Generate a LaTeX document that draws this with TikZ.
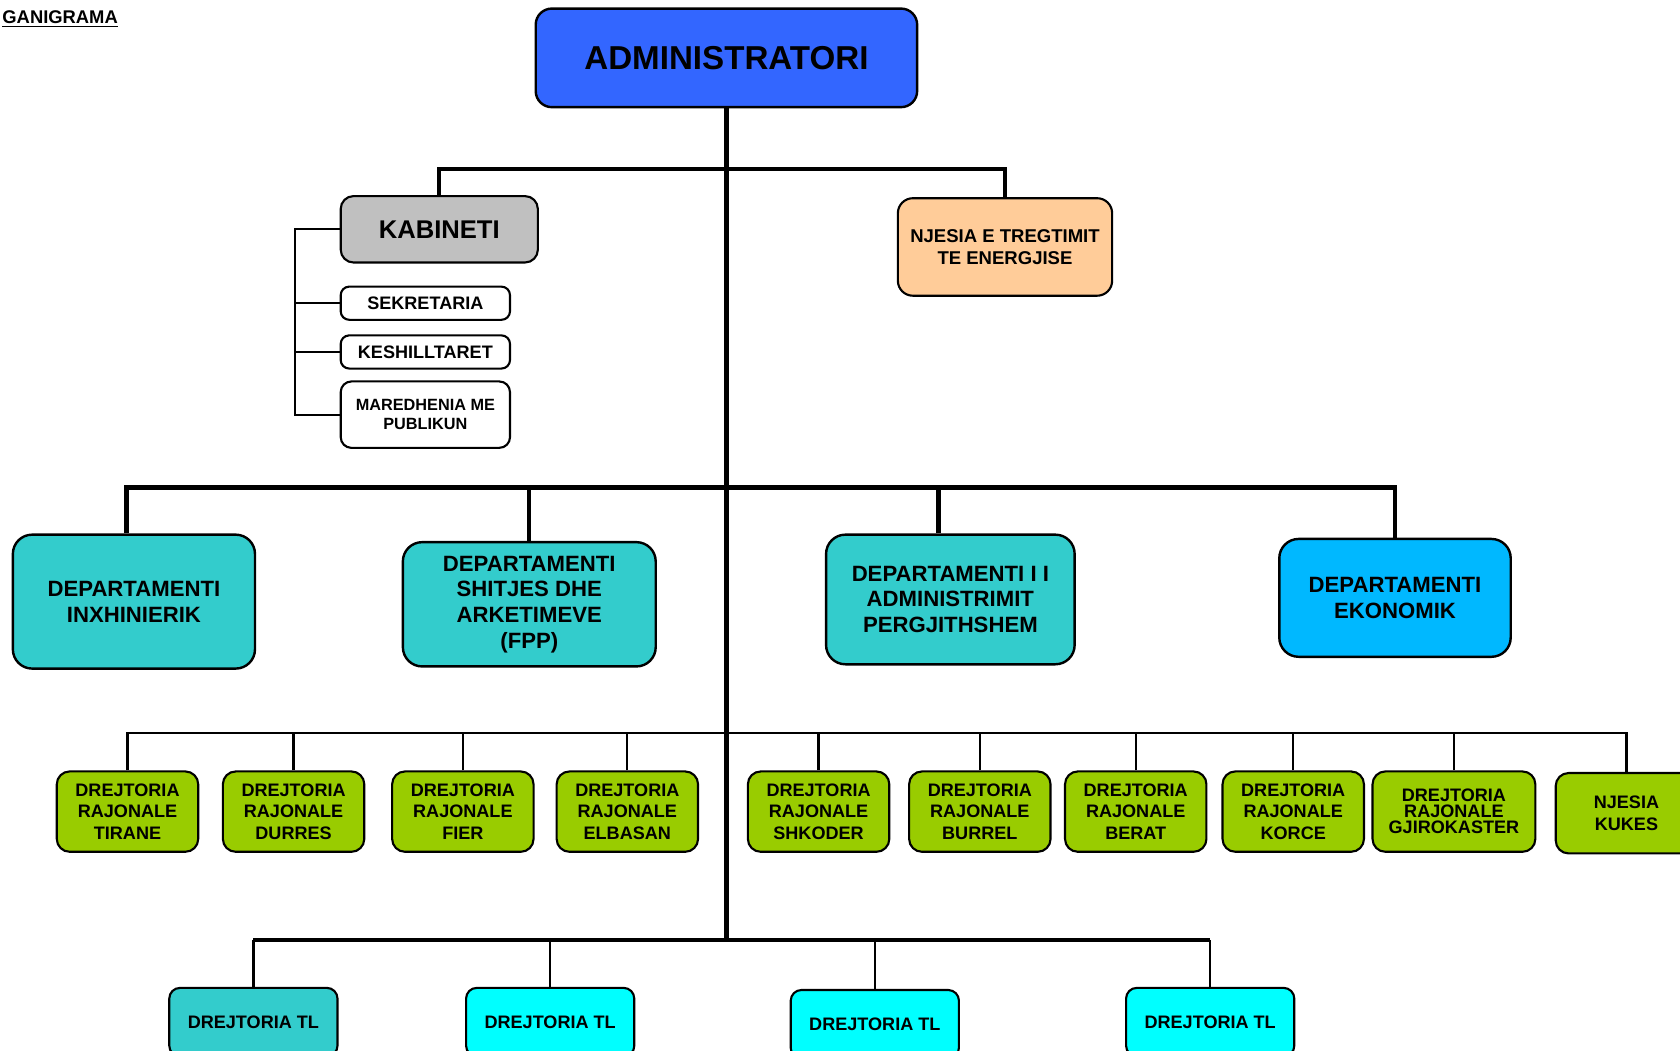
\documentclass[tikz,border=0pt]{standalone}
\usepackage{fontspec}
\setmainfont{Liberation Sans}
\usepackage{tikz}

\definecolor{blupor}{HTML}{3366FF}
\definecolor{hiri}{HTML}{C0C0C0}
\definecolor{pjeshke}{HTML}{FFCC99}
\definecolor{bruz}{HTML}{33CCCC}
\definecolor{qiell}{HTML}{00B8FF}
\definecolor{jeshile}{HTML}{99CC00}
\definecolor{cian}{HTML}{00FFFF}

\tikzset{
  kuti/.style={draw, line width=1.4pt, align=center, inner sep=0pt, font=\bfseries},
  vogel/.style={kuti, fill=white, minimum width=3.95cm, rounded corners=0.2cm},
  dep/.style={kuti, fill=bruz, line width=1.6pt, rounded corners=0.45cm,
    font=\bfseries\fontsize{14.7}{17}\selectfont},
  rajon/.style={kuti, fill=jeshile, minimum width=3.3cm, minimum height=1.875cm,
    rounded corners=0.3cm, font=\bfseries\fontsize{12}{14.2}\selectfont},
  tlkuti/.style={kuti, fill=cian, minimum width=3.925cm, minimum height=1.6cm,
    rounded corners=0.25cm, font=\bfseries\fontsize{12}{14.2}\selectfont},
  linje/.style={line width=2.8pt},
  mes/.style={line width=1.5pt},
  holle/.style={line width=1.3pt},
}

\begin{document}
\begin{tikzpicture}
  \useasboundingbox (0, 0) rectangle (39.2, -24.5);

  % Titulli
  \node[anchor=base west, inner sep=0pt, font=\bfseries\fontsize{12.2}{14}\selectfont]
    (titull) at (0.05, -0.55) {\underline{GANIGRAMA}};

  % Administratori
  \node[kuti, fill=blupor, line width=1.6pt, minimum width=8.9cm, minimum height=2.3cm,
    rounded corners=0.375cm, font=\bfseries\fontsize{22}{26}\selectfont]
    (adm) at (16.95, -1.35) {ADMINISTRATORI};

  % Kabineti
  \node[kuti, fill=hiri, minimum width=4.6cm, minimum height=1.55cm, rounded corners=0.3cm,
    font=\bfseries\fontsize{17}{20}\selectfont] (kab) at (10.25, -5.35) {KABINETI};
  \node[vogel, minimum height=0.775cm, font=\bfseries\fontsize{12}{14}\selectfont]
    (sek) at (9.925, -7.075) {SEKRETARIA};
  \node[vogel, minimum height=0.775cm, font=\bfseries\fontsize{12}{14}\selectfont]
    (kes) at (9.925, -8.2125) {KESHILLTARET};
  \node[vogel, minimum height=1.55cm, rounded corners=0.25cm,
    font=\bfseries\fontsize{10.8}{12.8}\selectfont]
    (mar) at (9.925, -9.675) {MAREDHENIA ME\\PUBLIKUN};

  % Njesia e tregtimit
  \node[kuti, fill=pjeshke, minimum width=5cm, minimum height=2.275cm, rounded corners=0.35cm,
    font=\bfseries\fontsize{12.3}{14.2}\selectfont]
    (tre) at (23.45, -5.7625) {NJESIA E TREGTIMIT\\TE ENERGJISE};

  % Departamentet
  \node[dep, minimum width=5.65cm, minimum height=3.125cm]
    (dinx) at (3.125, -14.0375) {DEPARTAMENTI\\INXHINIERIK};
  \node[dep, minimum width=5.9cm, minimum height=2.9cm]
    (dshi) at (12.35, -14.1) {DEPARTAMENTI\\SHITJES DHE\\ARKETIMEVE\\(FPP)};
  \node[dep, minimum width=5.8cm, minimum height=3.025cm]
    (dadm) at (22.175, -13.9875) {DEPARTAMENTI I I\\ADMINISTRIMIT\\PERGJITHSHEM};
  \node[dep, fill=qiell, minimum width=5.4cm, minimum height=2.75cm]
    (deko) at (32.55, -13.95) {DEPARTAMENTI\\EKONOMIK};

  % Drejtorite rajonale
  \node[rajon] (rtir) at (2.975, -18.9375) {DREJTORIA\\RAJONALE\\TIRANE};
  \node[rajon] (rdur) at (6.85, -18.9375) {DREJTORIA\\RAJONALE\\DURRES};
  \node[rajon] (rfie) at (10.8, -18.9375) {DREJTORIA\\RAJONALE\\FIER};
  \node[rajon] (relb) at (14.6375, -18.9375) {DREJTORIA\\RAJONALE\\ELBASAN};
  \node[rajon] (rshk) at (19.1, -18.9375) {DREJTORIA\\RAJONALE\\SHKODER};
  \node[rajon] (rbur) at (22.8625, -18.9375) {DREJTORIA\\RAJONALE\\BURREL};
  \node[rajon] (rber) at (26.5, -18.9375) {DREJTORIA\\RAJONALE\\BERAT};
  \node[rajon] (rkor) at (30.175, -18.9375) {DREJTORIA\\RAJONALE\\KORCE};
  \node[rajon, minimum width=3.8cm, font=\bfseries\fontsize{12}{10.7}\selectfont]
    (rgji) at (33.925, -18.9375) {DREJTORIA\\RAJONALE\\GJIROKASTER};
  \node[rajon, font=\bfseries\fontsize{12}{15}\selectfont]
    (rkuk) at (37.95, -18.975) {NJESIA\\KUKES};

  % Drejtorite TL
  \node[tlkuti, fill=bruz] (tl1) at (5.9125, -23.85) {DREJTORIA TL};
  \node[tlkuti] (tl2) at (12.8375, -23.85) {DREJTORIA TL};
  \node[tlkuti] (tl3) at (20.4125, -23.9) {DREJTORIA TL};
  \node[tlkuti] (tl4) at (28.2375, -23.85) {DREJTORIA TL};

  % Lidhjet
  \coordinate (b1) at (16.95, -3.95);
  \coordinate (b2) at (16.95, -11.375);
  \coordinate (b3) at (16.95, -17.1);
  \coordinate (b4) at (16.95, -21.925);
  \coordinate (kx) at (6.875, -5.3);

  \draw[linje] (adm.south) -- (b4);
  \draw[linje] (kab.north) |- (b1) -| (tre.north);

  \draw[holle] (kab.west) -| (kx |- mar.west) -- (mar.west);
  \draw[holle] (sek.west) -- (sek.west -| kx);
  \draw[holle] (kes.west) -- (kes.west -| kx);

  \draw[linje] ([xshift=-0.175cm]dinx.north) |- (b2) -| (deko.north);
  \draw[linje] (dshi.north) -- (dshi.north |- b2);
  \draw[linje] ([xshift=-0.275cm]dadm.north) -- ([xshift=-0.275cm]dadm.north |- b2);

  \draw[mes] (rtir.north) |- (b3) -| (rkuk.north);
  \foreach \n in {rdur, rfie, relb, rshk, rbur, rber, rkor, rgji}
    \draw[mes] (\n.north) -- (\n.north |- b3);

  \draw[linje] (tl1.north |- b4) -- (tl4.north |- b4);
  \foreach \n in {tl1, tl2, tl3, tl4}
    \draw[mes] (\n.north) -- (\n.north |- b4);

\end{tikzpicture}
\end{document}
